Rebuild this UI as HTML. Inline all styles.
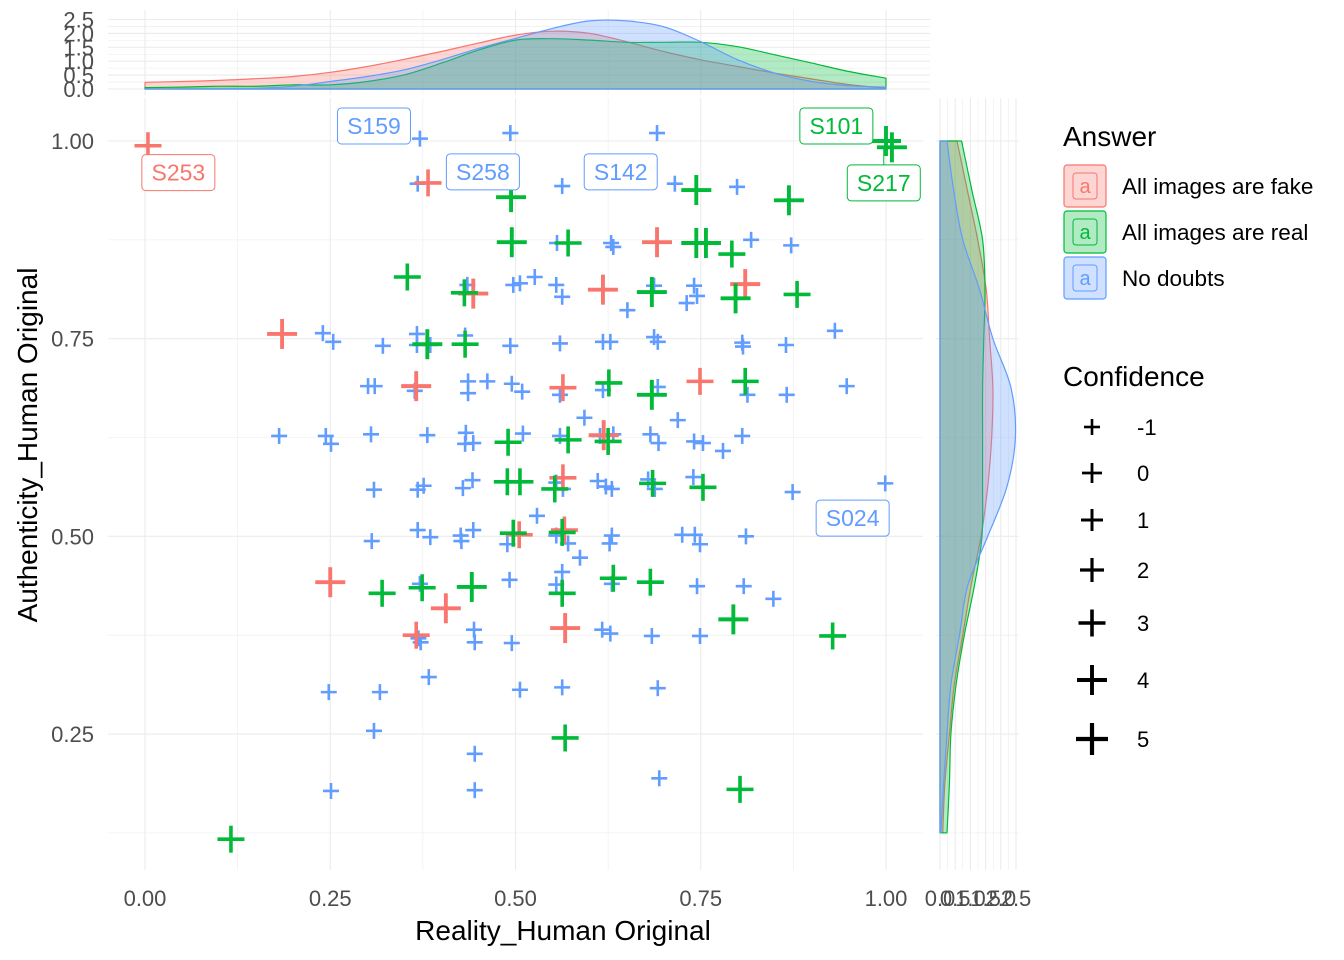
<!DOCTYPE html>
<html><head><meta charset="utf-8"><style>
html,body{margin:0;padding:0;background:#fff}
svg{display:block;font-family:"Liberation Sans",Arial,sans-serif}
</style></head><body>
<svg id="chart" width="1344" height="960" viewBox="0 0 1344 960" xmlns="http://www.w3.org/2000/svg">
<g id="grid"></g><g id="dens"></g><g id="pts"></g><g id="lbls"></g><g id="axes"></g><g id="legend"></g>
</svg>
<script>
const fakePts=[[0.004,0.994,3],[0.382,0.947,3],[0.185,0.756,4],[0.443,0.807,4],[0.366,0.690,4],[0.691,0.872,4],[0.618,0.812,4],[0.810,0.819,4],[0.749,0.696,3],[0.564,0.688,3],[0.619,0.628,4],[0.564,0.574,3],[0.566,0.508,3],[0.505,0.502,3],[0.250,0.442,4],[0.406,0.409,4],[0.366,0.375,3],[0.567,0.384,4]];
const realPts=[[1.0,1.0,4],[1.008,0.992,4],[0.494,0.929,4],[0.495,0.872,4],[0.354,0.828,3],[0.431,0.808,3],[0.381,0.743,4],[0.432,0.743,3],[0.744,0.938,4],[0.869,0.925,4],[0.571,0.871,3],[0.744,0.871,4],[0.757,0.871,4],[0.792,0.857,3],[0.684,0.809,4],[0.797,0.801,4],[0.880,0.806,3],[0.626,0.694,3],[0.684,0.679,4],[0.810,0.696,3],[0.490,0.619,3],[0.571,0.622,3],[0.625,0.620,3],[0.506,0.569,3],[0.553,0.560,3],[0.685,0.567,3],[0.753,0.562,3],[0.489,0.569,3],[0.497,0.504,3],[0.563,0.505,3],[0.632,0.447,3],[0.682,0.442,3],[0.563,0.428,3],[0.794,0.395,4],[0.928,0.374,3],[0.567,0.245,3],[0.803,0.180,3],[0.320,0.428,3],[0.374,0.435,3],[0.441,0.436,4],[0.116,0.117,3]];
const noDoubtPts=[[0.371,1.003,-1],[0.493,1.010,-1],[0.368,0.946,-1],[0.563,0.943,-1],[0.691,1.010,-1],[0.715,0.946,-1],[0.799,0.942,-1],[0.497,0.818,-1],[0.506,0.820,-1],[0.435,0.818,-1],[0.240,0.757,-1],[0.254,0.746,-1],[0.321,0.741,-1],[0.367,0.756,-1],[0.367,0.742,-1],[0.385,0.742,-1],[0.432,0.754,-1],[0.493,0.741,-1],[0.301,0.690,-1],[0.310,0.690,-1],[0.364,0.684,-1],[0.436,0.696,-1],[0.436,0.681,-1],[0.462,0.696,-1],[0.495,0.693,-1],[0.509,0.683,-1],[0.181,0.627,-1],[0.244,0.627,-1],[0.251,0.617,-1],[0.305,0.629,-1],[0.381,0.628,-1],[0.433,0.631,-1],[0.432,0.617,-1],[0.443,0.618,-1],[0.556,0.871,-1],[0.629,0.871,-1],[0.632,0.866,-1],[0.818,0.875,-1],[0.872,0.868,-1],[0.526,0.828,-1],[0.555,0.818,-1],[0.563,0.803,-1],[0.651,0.786,-1],[0.687,0.817,-1],[0.741,0.817,-1],[0.745,0.804,-1],[0.731,0.795,-1],[0.560,0.744,-1],[0.618,0.746,-1],[0.628,0.746,-1],[0.687,0.752,-1],[0.692,0.746,-1],[0.806,0.745,-1],[0.807,0.740,-1],[0.865,0.742,-1],[0.931,0.760,-1],[0.947,0.690,-1],[0.560,0.679,-1],[0.618,0.685,-1],[0.692,0.689,-1],[0.813,0.679,-1],[0.866,0.679,-1],[0.593,0.650,-1],[0.719,0.647,-1],[0.510,0.630,-1],[0.560,0.627,-1],[0.614,0.627,-1],[0.632,0.629,-1],[0.682,0.629,-1],[0.693,0.618,-1],[0.741,0.620,-1],[0.753,0.618,-1],[0.780,0.608,-1],[0.806,0.627,-1],[0.555,0.568,-1],[0.564,0.560,-1],[0.611,0.570,-1],[0.622,0.563,-1],[0.630,0.560,-1],[0.679,0.572,-1],[0.688,0.560,-1],[0.740,0.575,-1],[0.874,0.556,-1],[0.999,0.567,-1],[0.529,0.526,-1],[0.555,0.501,-1],[0.571,0.491,-1],[0.587,0.473,-1],[0.630,0.501,-1],[0.627,0.491,-1],[0.725,0.502,-1],[0.742,0.502,-1],[0.749,0.490,-1],[0.811,0.500,-1],[0.563,0.455,-1],[0.555,0.439,-1],[0.630,0.440,-1],[0.745,0.437,-1],[0.808,0.437,-1],[0.848,0.421,-1],[0.617,0.382,-1],[0.628,0.377,-1],[0.684,0.374,-1],[0.749,0.374,-1],[0.563,0.309,-1],[0.692,0.308,-1],[0.694,0.194,-1],[0.309,0.559,-1],[0.368,0.559,-1],[0.376,0.564,-1],[0.429,0.561,-1],[0.442,0.571,-1],[0.306,0.494,-1],[0.368,0.508,-1],[0.385,0.499,-1],[0.426,0.501,-1],[0.427,0.494,-1],[0.443,0.508,-1],[0.489,0.490,-1],[0.492,0.445,-1],[0.371,0.440,-1],[0.369,0.371,-1],[0.372,0.366,-1],[0.444,0.382,-1],[0.445,0.366,-1],[0.495,0.365,-1],[0.383,0.322,-1],[0.248,0.303,-1],[0.317,0.303,-1],[0.506,0.306,-1],[0.309,0.254,-1],[0.445,0.225,-1],[0.251,0.178,-1],[0.445,0.179,-1]];
const labelText=["S253","S159","S258","S142","S101","S217","S024"];
const labelGroup=[0,2,2,2,1,1,2];
const labelX=[0.045,0.309,0.456,0.642,0.933,0.997,0.955];
const labelY=[0.960,1.019,0.961,0.961,1.019,0.947,0.523];
const xTicks=[0,0.25,0.5,0.75,1];
const xTickLabels=["0.00","0.25","0.50","0.75","1.00"];
const yTicks=[0.25,0.5,0.75,1];
const yTickLabels=["0.25","0.50","0.75","1.00"];
const topGridX=[0,0.05,0.1,0.15,0.2,0.25,0.3,0.35,0.4,0.45,0.5,0.55,0.6,0.65,0.7,0.75,0.8,0.85,0.9,0.95,1];
const topFake=[0.24,0.27,0.31,0.37,0.45,0.6,0.81,1.07,1.35,1.65,1.94,2.08,2.0,1.7,1.35,1.05,0.81,0.57,0.36,0.16,0.03];
const topReal=[0.05,0.07,0.1,0.1,0.15,0.15,0.27,0.51,0.93,1.4,1.76,1.81,1.76,1.68,1.68,1.68,1.52,1.23,0.93,0.63,0.39];
const topNoDoubt=[0,0.005,0.01,0.02,0.1,0.27,0.45,0.69,1.05,1.46,1.82,2.18,2.45,2.45,2.24,1.7,1.05,0.57,0.27,0.12,0.07];
const rightGridY=[0.125,0.1875,0.25,0.3125,0.375,0.4375,0.5,0.5625,0.625,0.6875,0.75,0.8125,0.875,0.9375,1.0];
const rightFake=[0.09,0.16,0.31,0.47,0.75,1.02,1.35,1.57,1.7,1.74,1.63,1.52,1.24,0.9,0.56];
const rightReal=[0.23,0.31,0.36,0.53,0.8,1.13,1.38,1.4,1.4,1.4,1.44,1.48,1.4,1.05,0.71];
const rightNoDoubt=[0.03,0.12,0.23,0.36,0.64,0.91,1.57,2.2,2.48,2.34,1.74,1.3,0.75,0.45,0.23];
const densTicks=[0,0.5,1,1.5,2,2.5];
const densTickLabels=["0.0","0.5","1.0","1.5","2.0","2.5"];
const groupNames=["All images are fake","All images are real","No doubts"];
const confLevels=["-1","0","1","2","3","4","5"];

const COLORS=["#F8766D","#00BA38","#619CFF"];
const NS="http://www.w3.org/2000/svg";
const sx=x=>145+x*741, sy=y=>141+(1-y)*790.7;
const ty=d=>89-d*27.8, rx=d=>940+d*30.4;
const armFor=c=>({"-1":8,"0":10,"1":11,"2":12,"3":13.5,"4":15,"5":16})[String(c)];
const swFor=c=>({"-1":2.6,"0":2.8,"1":3,"2":3.2,"3":3.6,"4":3.9,"5":4.2})[String(c)];
function mk(tag,attrs,parent,text){const e=document.createElementNS(NS,tag);for(const k in attrs)e.setAttribute(k,attrs[k]);if(text!==undefined)e.textContent=text;parent.appendChild(e);return e;}
const G=id=>document.getElementById(id);
const grid=G("grid"),dens=G("dens"),pts=G("pts"),lbls=G("lbls"),axes=G("axes"),leg=G("legend");
function smooth(P){let d="";for(let i=0;i<P.length-1;i++){const p0=P[Math.max(0,i-1)],p1=P[i],p2=P[i+1],p3=P[Math.min(P.length-1,i+2)];
 const c1=[p1[0]+(p2[0]-p0[0])/6,p1[1]+(p2[1]-p0[1])/6],c2=[p2[0]-(p3[0]-p1[0])/6,p2[1]-(p3[1]-p1[1])/6];
 d+=" C"+c1[0].toFixed(1)+","+c1[1].toFixed(1)+" "+c2[0].toFixed(1)+","+c2[1].toFixed(1)+" "+p2[0].toFixed(1)+","+p2[1].toFixed(1);}return d;}

for(let v=-0.125;v<=1.05;v+=0.125){const major=Math.abs(v*4-Math.round(v*4))<1e-6;
 const x=sx(v); if(x>=108&&x<=923){const l=mk("line",{x1:x,x2:x,y1:98,y2:870,stroke:"#ebebeb","stroke-width":major?1.1:0.55},grid);
 const l2=mk("line",{x1:x,x2:x,y1:10,y2:95,stroke:"#ebebeb","stroke-width":major?1.1:0.55},grid);}}
for(let v=0.125;v<=1.0001;v+=0.125){const major=Math.abs(v*4-Math.round(v*4))<1e-6;const y=sy(v);
 const l=mk("line",{x1:108,x2:923,y1:y,y2:y,stroke:"#ebebeb","stroke-width":major?1.1:0.55},grid);
 const l2=mk("line",{x1:936,x2:1019,y1:y,y2:y,stroke:"#ebebeb","stroke-width":major?1.1:0.55},grid);}
for(let d=0;d<=2.5001;d+=0.25){const major=Math.abs(d*2-Math.round(d*2))<1e-6;
 const l=mk("line",{x1:108,x2:930,y1:ty(d),y2:ty(d),stroke:"#ebebeb","stroke-width":major?1.1:0.55},grid);
 const l2=mk("line",{x1:rx(d),x2:rx(d),y1:98,y2:870,stroke:"#ebebeb","stroke-width":major?1.1:0.55},grid);}

[[topFake,0],[topReal,1],[topNoDoubt,2]].forEach(([arr,g])=>{
 const P=arr.map((v,i)=>[sx(topGridX[i]),ty(v)]);
 const d="M"+sx(topGridX[0])+","+ty(0)+" L"+P[0][0]+","+P[0][1]+smooth(P)+" L"+sx(topGridX[topGridX.length-1])+","+ty(0)+"Z";
 const p=mk("path",{d:d,fill:COLORS[g],"fill-opacity":0.3,stroke:COLORS[g],"stroke-width":1.2,"stroke-linejoin":"round"},dens);
 });
[[rightFake,0],[rightReal,1],[rightNoDoubt,2]].forEach(([arr,g])=>{
 const P=arr.map((v,i)=>[rx(v),sy(rightGridY[i])]);
 const d="M"+rx(0)+","+sy(rightGridY[0])+" L"+P[0][0]+","+P[0][1]+smooth(P)+" L"+rx(0)+","+sy(rightGridY[rightGridY.length-1])+"Z";
 const p=mk("path",{d:d,fill:COLORS[g],"fill-opacity":0.3,stroke:COLORS[g],"stroke-width":1.2,"stroke-linejoin":"round"},dens);
 });

function cross(parent,cx,cy,c,color){const a=armFor(c),w=swFor(c);
 const g=mk("g",{},parent);
 mk("line",{x1:cx-a,x2:cx+a,y1:cy,y2:cy,stroke:color,"stroke-width":w},g);
 mk("line",{x1:cx,x2:cx,y1:cy-a,y2:cy+a,stroke:color,"stroke-width":w},g);return g;}
[[noDoubtPts,2],[fakePts,0],[realPts,1]].forEach(([arr,g])=>{arr.forEach(p=>{
 const e=cross(pts,sx(p[0]),sy(p[1]),p[2],COLORS[g]);
 
 });});

labelText.forEach((t,i)=>{const cx=sx(labelX[i]),cy=sy(labelY[i]);const col=COLORS[labelGroup[i]];
 const g=mk("g",{},lbls);
 
 
 if(t==="S217"){mk("line",{x1:cx,x2:cx,y1:cy-18,y2:sy(0.99),stroke:col,"stroke-width":1},g);}
 mk("rect",{x:cx-36.5,y:cy-18,width:73,height:36,rx:4,fill:"#fff",stroke:col,"stroke-width":1},g);
 mk("text",{x:cx,y:cy+8,"text-anchor":"middle","font-size":23,fill:col},g,t);});

xTicks.forEach((v,i)=>{const t=mk("text",{x:sx(v),y:906,"text-anchor":"middle","font-size":22,fill:"#4d4d4d"},axes,xTickLabels[i]);});
yTicks.forEach((v,i)=>{const t=mk("text",{x:94,y:sy(v)+8,"text-anchor":"end","font-size":22,fill:"#4d4d4d"},axes,yTickLabels[i]);});
densTicks.forEach((v,i)=>{const t=mk("text",{x:94,y:ty(v)+8,"text-anchor":"end","font-size":22,fill:"#4d4d4d"},axes,densTickLabels[i]);
 const t2=mk("text",{x:rx(v),y:906,"text-anchor":"middle","font-size":22,fill:"#4d4d4d"},axes,densTickLabels[i]);});
let t=mk("text",{x:563,y:940,"text-anchor":"middle","font-size":28,fill:"#000"},axes,"Reality_Human Original");
t=mk("text",{x:37,y:445,"text-anchor":"middle","font-size":28,fill:"#000",transform:"rotate(-90 37 445)"},axes,"Authenticity_Human Original");

t=mk("text",{x:1063,y:146,"font-size":28,fill:"#000"},leg,"Answer");
groupNames.forEach((n,i)=>{const y0=165+i*46;const g=mk("g",{},leg);
 
 
 mk("rect",{x:1064,y:y0,width:42,height:42,fill:"#fff"},g);
 mk("rect",{x:1064,y:y0,width:42,height:42,rx:3,fill:COLORS[i],"fill-opacity":0.3,stroke:COLORS[i],"stroke-width":1.2},g);
 mk("rect",{x:1073,y:y0+8,width:24,height:26,rx:3,fill:"none",stroke:COLORS[i],"stroke-width":1},g);
 mk("text",{x:1085,y:y0+28,"text-anchor":"middle","font-size":20,fill:COLORS[i]},g,"a");
 mk("text",{x:1122,y:y0+29,"font-size":22.5,fill:"#000"},g,n);});
t=mk("text",{x:1063,y:386,"font-size":28,fill:"#000"},leg,"Confidence");
const confY=[427,473,520,570,623,680,739];
confLevels.forEach((c,i)=>{const g=cross(leg,1092,confY[i],c,"#000");
 
 
 mk("text",{x:1137,y:confY[i]+8,"font-size":22,fill:"#000"},g,c);});
</script>
</body></html>
